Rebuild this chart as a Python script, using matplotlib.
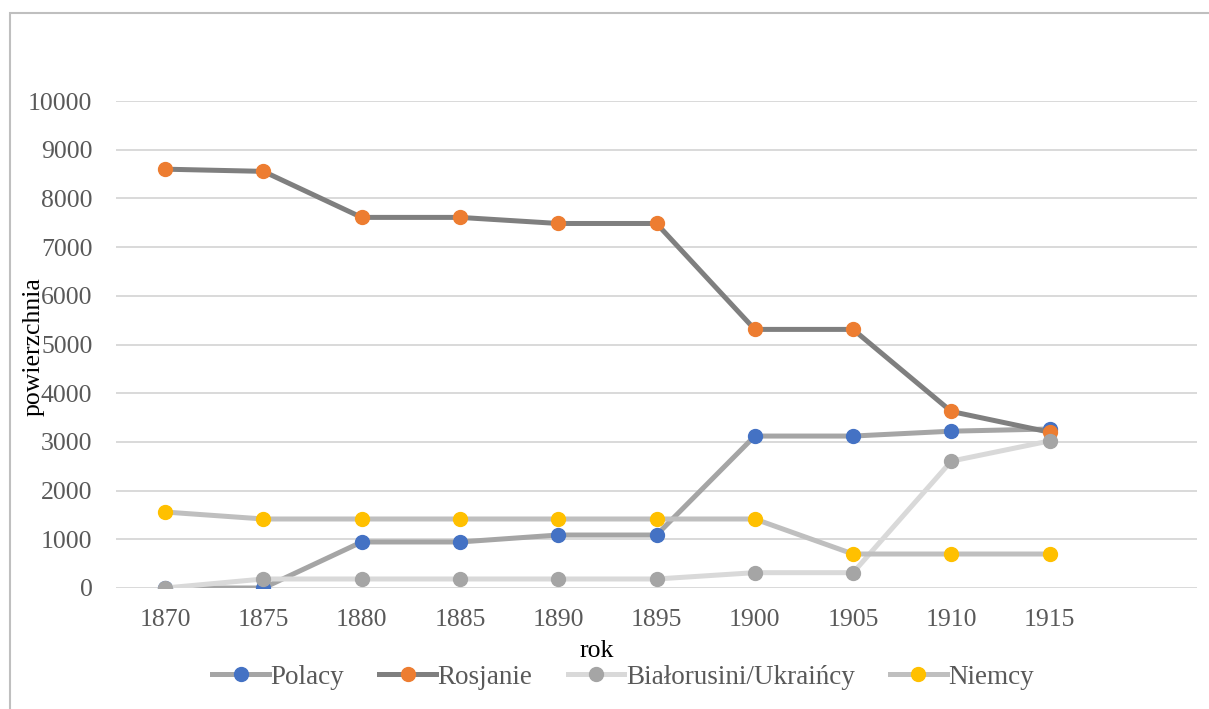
import matplotlib.pyplot as plt
from matplotlib.lines import Line2D
from matplotlib.patches import Rectangle

years = ['1870', '1875', '1880', '1885', '1890', '1895', '1900', '1905', '1910', '1915']
polacy = [0, 0, 945, 945, 1088, 1088, 3120, 3120, 3220, 3265]
rosjanie = [8600, 8555, 7610, 7610, 7485, 7485, 5310, 5310, 3625, 3200]
bialorusini = [0, 185, 185, 185, 185, 185, 315, 315, 2605, 3020]
niemcy = [1560, 1417, 1417, 1417, 1417, 1417, 1417, 698, 698, 698]

series = [
    ('Polacy', polacy, '#A5A5A5', '#4472C4'),
    ('Rosjanie', rosjanie, '#7F7F7F', '#ED7D31'),
    ('Białorusini/Ukraińcy', bialorusini, '#D9D9D9', '#A5A5A5'),
    ('Niemcy', niemcy, '#BFBFBF', '#FFC000'),
]

plt.rcParams['font.family'] = ['Liberation Serif', 'DejaVu Serif']
fs = 18.5

fig = plt.figure(figsize=(12.09, 7.09), dpi=100)
ax = fig.add_axes([116 / 1209, 1 - 588 / 709, 1081 / 1209, 487 / 709])

x = list(range(len(years)))
handles = []
for name, vals, lc, mc in series:
    ax.plot(x, vals, color=lc, lw=3.6, marker='o', ms=10,
            markerfacecolor=mc, markeredgecolor=mc, zorder=3, solid_capstyle='round')
    handles.append(Line2D([0], [0], color=lc, lw=3.6, marker='o', ms=10,
                          markerfacecolor=mc, markeredgecolor=mc))

ax.set_xlim(-0.5, 10.5)
ax.set_ylim(0, 10000)
ax.set_xticks(x)
ax.set_xticklabels(years)
ax.set_yticks(range(0, 10001, 1000))
ax.grid(axis='y', color='#D9D9D9', lw=1.4)
ax.set_axisbelow(True)
for s in ax.spines.values():
    s.set_visible(False)
ax.tick_params(length=0, labelsize=fs, labelcolor='#595959')
ax.tick_params(axis='y', pad=17)
ax.tick_params(axis='x', pad=15)

fig.text(597 / 1209, 1 - 651 / 709, 'rok', ha='center', va='center', fontsize=fs, color='black')
fig.text(34 / 1209, 1 - 347 / 709, 'powierzchnia', ha='center', va='center',
         rotation=90, fontsize=fs, color='black')

fig.legend(handles, [s[0] for s in series], loc='center', bbox_to_anchor=(623 / 1209, 1 - 677 / 709),
           ncol=4, frameon=False, fontsize=19.5, labelcolor='#595959',
           handlelength=2.1, handletextpad=0.05, columnspacing=1.3)

fig.patches.append(Rectangle((10 / 1209, -0.1), 1.2, 1 - 13 / 709 + 0.1, transform=fig.transFigure,
                             fill=False, edgecolor='#BFBFBF', lw=1.5))

fig.savefig('out.png', dpi=100)
